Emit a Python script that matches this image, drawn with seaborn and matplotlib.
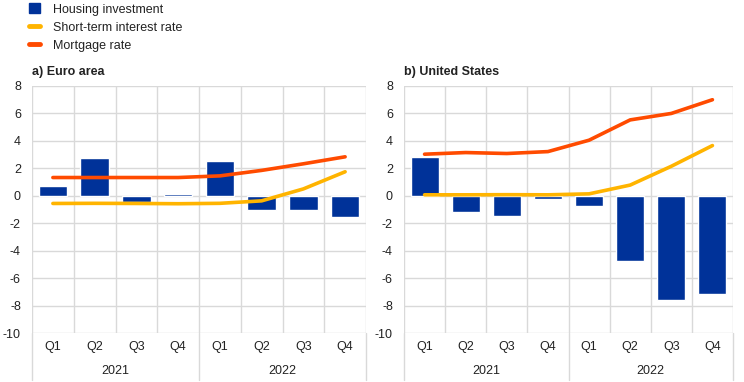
import numpy as np
import pandas as pd
import matplotlib
matplotlib.use("Agg")
import matplotlib.pyplot as plt
import matplotlib.transforms as mtransforms
from matplotlib.patches import Patch
from matplotlib.lines import Line2D
import seaborn as sns

sns.set_theme(style="white")
plt.rcParams['font.family'] = ['Liberation Sans', 'DejaVu Sans']

quarters = ["Q1", "Q2", "Q3", "Q4", "Q1", "Q2", "Q3", "Q4"]
years = ["2021", "2022"]

ea_housing = [0.68, 2.72, -0.44, 0.10, 2.50, -1.00, -1.07, -1.55]
ea_short = [-0.56, -0.55, -0.56, -0.58, -0.55, -0.37, 0.50, 1.75]
ea_mortgage = [1.33, 1.33, 1.33, 1.33, 1.45, 1.85, 2.33, 2.84]

us_housing = [2.80, -1.20, -1.48, -0.27, -0.78, -4.78, -7.60, -7.18]
us_short = [0.07, 0.07, 0.08, 0.07, 0.14, 0.78, 2.15, 3.66]
us_mortgage = [3.03, 3.15, 3.08, 3.22, 4.05, 5.53, 6.00, 7.00]

titles = ["a) Euro area", "b) United States"]
series_names = ["Housing investment", "Short-term interest rate", "Mortgage rate"]

BLUE = "#003299"
YELLOW = "#FFB400"
ORANGE = "#FF4B00"
GRID = "#D9D9D9"

fig = plt.figure(figsize=(7.44, 3.82), dpi=100)
axes = [fig.add_axes([32/744, 1-333/382, 334/744, 247/382]),
        fig.add_axes([404/744, 1-333/382, 329/744, 247/382])]

panels = [(ea_housing, ea_short, ea_mortgage), (us_housing, us_short, us_mortgage)]

for ax, (h, s, m), title in zip(axes, panels, titles):
    idx = np.arange(len(quarters))
    df = pd.DataFrame({"pos": idx, "housing": h, "short": s, "mortgage": m})
    sns.barplot(data=df, x="pos", y="housing", ax=ax, color=BLUE, width=0.68,
                native_scale=True, saturation=1, zorder=2)
    sns.lineplot(data=df, x="pos", y="short", ax=ax, color=YELLOW, linewidth=2.6,
                 zorder=3, solid_capstyle="round", solid_joinstyle="round")
    sns.lineplot(data=df, x="pos", y="mortgage", ax=ax, color=ORANGE, linewidth=2.6,
                 zorder=4, solid_capstyle="round", solid_joinstyle="round")
    ax.set_xlim(-0.5, 7.5)
    ax.set_ylim(-10, 8)
    ax.set_yticks(np.arange(-10, 9, 2))
    ax.set_yticklabels([str(v) for v in range(-10, 9, 2)], fontsize=9, color="#222222")
    ax.tick_params(axis="y", length=0, pad=8)
    ax.set_xticks([])
    ax.set_xlabel("")
    ax.set_ylabel("")
    for sp in ax.spines.values():
        sp.set_visible(False)
    for yv in range(-10, 9, 2):
        ax.axhline(yv, color=GRID, lw=1.0, zorder=0)
    for xv in np.arange(-0.5, 8, 1):
        ax.axvline(xv, color=GRID, lw=1.0, zorder=0)
    trans = mtransforms.blended_transform_factory(ax.transData, ax.transAxes)
    for xv in [-0.5, 3.5, 7.5]:
        ax.plot([xv, xv], [0, -0.19], transform=trans, color=GRID, lw=1.0, clip_on=False)
    off = mtransforms.offset_copy(trans, fig=fig, y=-14, units="dots")
    for i, q in enumerate(quarters):
        ax.text(i, 0, q, transform=off, ha="center", va="center", fontsize=9, color="#222222")
    off2 = mtransforms.offset_copy(trans, fig=fig, y=-38, units="dots")
    for j, yr in enumerate(years):
        ax.text(1.5 + 4 * j, 0, yr, transform=off2, ha="center", va="center", fontsize=9, color="#222222")
    toff = mtransforms.offset_copy(ax.transAxes, fig=fig, y=8, units="dots")
    ax.text(0, 1.0, title, transform=toff, ha="left", va="bottom",
            fontsize=9, fontweight="bold", color="#222222")

handles = [Patch(facecolor=BLUE, edgecolor=BLUE),
           Line2D([0], [0], color=YELLOW, lw=3.5),
           Line2D([0], [0], color=ORANGE, lw=3.5)]
fig.legend(handles, series_names, loc="upper left", bbox_to_anchor=(29/744, 1 - 3/382),
           frameon=False, fontsize=9, handlelength=0.9, handleheight=0.9,
           handletextpad=1.0, labelspacing=0.45, borderaxespad=0.0,
           borderpad=0.0, labelcolor="#222222")

fig.savefig("out.png", dpi=100)
